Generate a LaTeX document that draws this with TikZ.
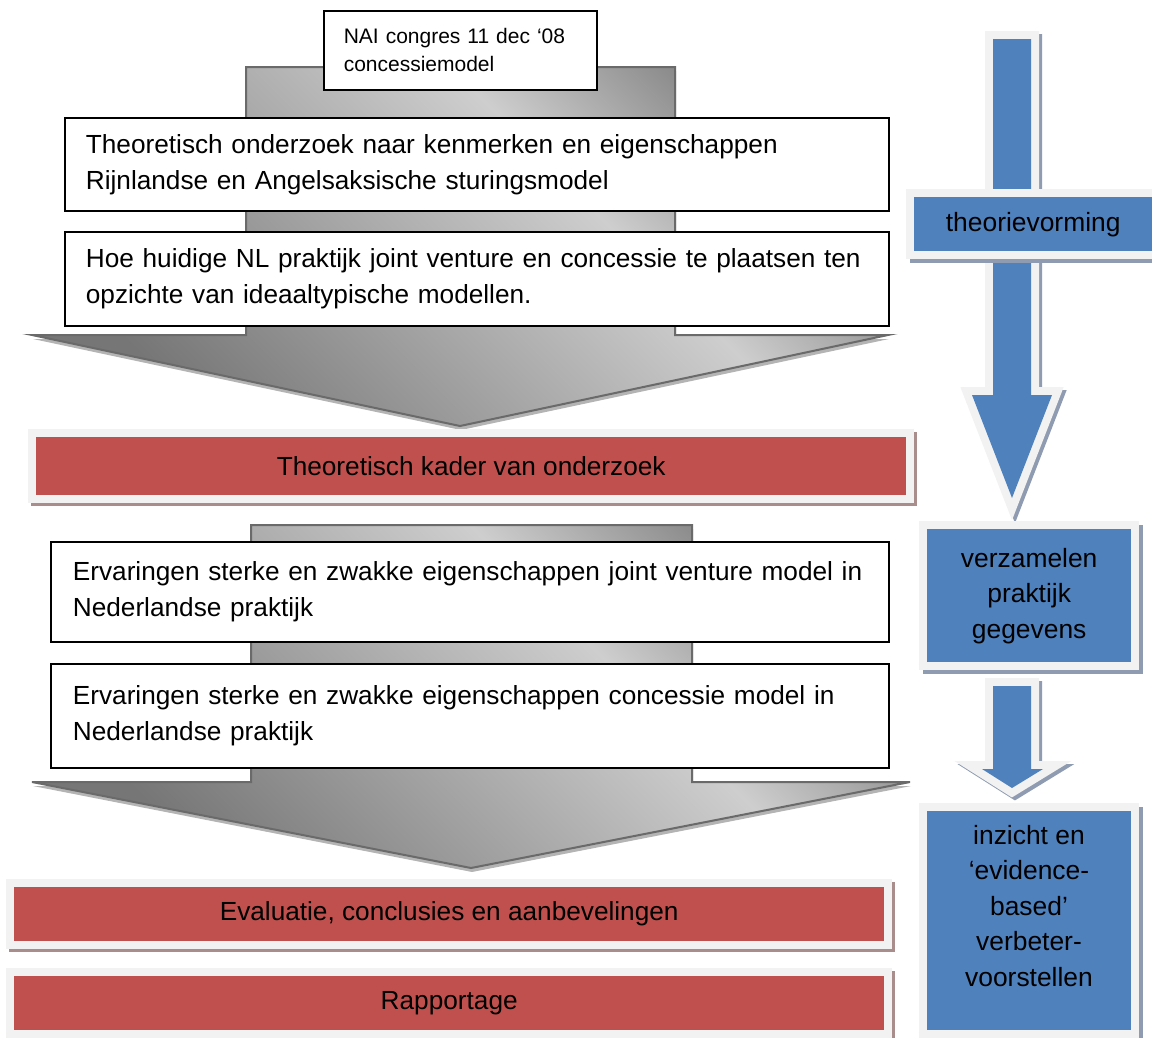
\documentclass[tikz,border=0pt]{standalone}
\usepackage{fontspec}
\setmainfont{Liberation Sans}
\definecolor{steeldark}{HTML}{767676}
\definecolor{steelmid}{HTML}{808080}
\definecolor{steellight}{HTML}{CECECE}
\definecolor{steeledge}{HTML}{6A6A6A}
\definecolor{steelshadow}{HTML}{B4B4B4}
\definecolor{barred}{HTML}{C0504D}
\definecolor{redshadow}{HTML}{A98D8D}
\definecolor{accentblue}{HTML}{4F81BD}
\definecolor{blueshadow}{HTML}{8E9BB0}
\definecolor{frameg}{HTML}{F2F2F2}
\pgfdeclareverticalshading{steel}{100bp}{color(0bp)=(steeldark); color(25bp)=(steeldark); color(60bp)=(steellight); color(75bp)=(steelmid); color(100bp)=(steelmid)}
\newcommand\bodysize{\fontsize{26.2}{36}\selectfont}
\newcommand\notesize{\fontsize{21}{28}\selectfont}
\newcommand\bluesize{\fontsize{26.4}{35.5}\selectfont}
\begin{document}
\begin{tikzpicture}[x=1pt,y=-1pt,
  steelarrow/.style={shading=steel, shading angle=-45, draw=steeledge, line width=2,
    preaction={fill=steelshadow, transform canvas={xshift=1pt,yshift=-4pt}}},
  whitebox/.style={draw=black, line width=1.8, fill=white, inner ysep=0, align=left, font=\bodysize},
  redbar/.style={fill=barred, inner sep=0, font=\bodysize,
    preaction={draw=redshadow, fill=redshadow, line width=16, transform canvas={xshift=3pt,yshift=-3pt}},
    preaction={draw=frameg, line width=16}},
  bluebox/.style={fill=accentblue, inner sep=0, font=\bluesize, align=center,
    preaction={draw=blueshadow, fill=blueshadow, line width=16, transform canvas={xshift=4pt,yshift=-4pt}},
    preaction={draw=frameg, line width=16}},
  bluearrow/.style={fill=accentblue,
    preaction={draw=blueshadow, fill=blueshadow, line width=16, transform canvas={xshift=3pt,yshift=-3pt}},
    preaction={draw=frameg, line width=16}}
]
\useasboundingbox (0,0) rectangle (1152,1037);
\clip (0,0) rectangle (1152,1037);

% first grey block arrow: theory phase
\path[steelarrow] (246,67) -- (675,67) -- (675,335) -- (888,335) -- (460,426) -- (32,335) -- (246,335) -- cycle;

\node[whitebox, inner xsep=21, text width=782, minimum width=824, minimum height=93, anchor=north west] (ondA) at (64,117)
  {\mbox{Theoretisch onderzoek naar kenmerken en eigenschappen}\\Rijnlandse en Angelsaksische sturingsmodel};
\node[whitebox, inner xsep=21, text width=782, minimum width=824, minimum height=94, anchor=north west] (ondB) at (64,231)
  {\mbox{Hoe huidige NL praktijk joint venture en concessie te plaatsen ten}\\opzichte van ideaaltypische modellen.};
\node[whitebox, line width=1.5, font=\notesize, inner xsep=20, text width=233, minimum width=273, minimum height=79, anchor=north west] (nai) at (323,10)
  {NAI congres 11 dec ‘08\\concessiemodel};

\node[redbar, minimum width=870, minimum height=58, anchor=north west] (kader) at (36,437) {Theoretisch kader van onderzoek};

% second grey block arrow: practice phase
\path[steelarrow] (251,525) -- (692,525) -- (692,782) -- (910,782) -- (471,868) -- (32,782) -- (251,782) -- cycle;

\node[whitebox, inner xsep=22, text width=794, minimum width=838, minimum height=100, anchor=north west] (ervJV) at (50,541)
  {\mbox{Ervaringen sterke en zwakke eigenschappen joint venture model in}\\Nederlandse praktijk};
\node[whitebox, inner xsep=22, text width=794, minimum width=838, minimum height=104, anchor=north west] (ervCM) at (50,663)
  {\mbox{Ervaringen sterke en zwakke eigenschappen concessie model in}\\Nederlandse praktijk};

\node[redbar, minimum width=870, minimum height=54, anchor=north west] (evaluatie) at (14,887) {Evaluatie, conclusies en aanbevelingen};
\node[redbar, minimum width=870, minimum height=54, anchor=north west] (rapportage) at (14,976) {Rapportage};

% right-hand column: blue arrows and stages
\path[bluearrow] (993,39) -- (1031,39) -- (1031,395) -- (1052,395) -- (1012,498) -- (972,395) -- (993,395) -- cycle;
\node[bluebox, minimum width=238, minimum height=54, anchor=north west] (theorie) at (914,197) {theorievorming};
\node[bluebox, minimum width=204, minimum height=133, anchor=north west] (verzamelen) at (927,529) {verzamelen\\praktijk\\gegevens};
\path[bluearrow] (993,686) -- (1031,686) -- (1031,769) -- (1043,769) -- (1012,788) -- (982,769) -- (993,769) -- cycle;
\node[bluebox, minimum width=204, minimum height=219, anchor=north west] (inzicht) at (927,811) {};
\node[align=center, font=\bluesize, inner sep=0] (inzichtText) at (1029,906) {inzicht en\\‘evidence-\\based’\\verbeter-\\voorstellen};
\end{tikzpicture}
\end{document}
